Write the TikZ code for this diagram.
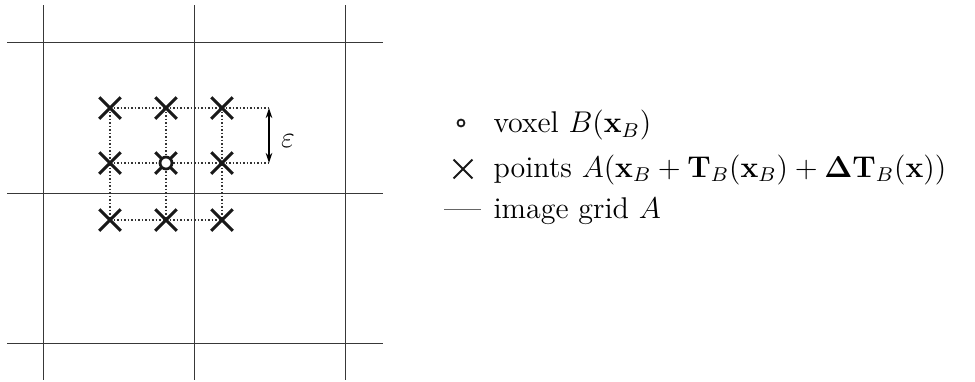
\documentclass[tikz,border=0pt]{standalone}
\usetikzlibrary{shapes.misc,arrows.meta}
\begin{document}
\begin{tikzpicture}[x=0.4pt,y=-0.4pt,
  gridline/.style={line width=0.4pt,draw=black!78},
  dotline/.style={line width=0.42pt,draw=black!80,dash pattern=on 0.7pt off 0.7pt},
  bigcross/.style={cross out,draw=black!90,line width=1.2pt,minimum size=7.4pt,inner sep=0pt},
  bigcirc/.style={circle,draw=black!90,fill=white,line width=1.1pt,minimum size=4.8pt,inner sep=0pt},
  smallcross/.style={cross out,draw=black!90,line width=0.75pt,minimum size=6.8pt,inner sep=0pt},
  smallcirc/.style={circle,draw=black!90,line width=0.7pt,minimum size=2.8pt,inner sep=0pt},
  legtext/.style={anchor=base west,inner sep=0pt,font=\fontsize{12}{14}\selectfont}]
\useasboundingbox (0,0) rectangle (975,381);
% grid
\foreach \x in {43,194,345} \draw[gridline] (\x,5) -- (\x,380);
\foreach \y in {42,193,343} \draw[gridline] (7,\y) -- (383,\y);
% points
\coordinate (p11) at (110,108);
\coordinate (p12) at (166,108);
\coordinate (p13) at (222,108);
\coordinate (p21) at (110,163);
\coordinate (p22) at (166,163);
\coordinate (p23) at (222,163);
\coordinate (p31) at (110,220);
\coordinate (p32) at (166,220);
\coordinate (p33) at (222,220);
\coordinate (e1) at (269,108);
\coordinate (e2) at (269,163);
% dotted lines
\draw[dotline] (p11) -- (e1);
\draw[dotline] (p21) -- (e2);
\draw[dotline] (p31) -- (p33);
\draw[dotline] (p11) -- (p31);
\draw[dotline] (p12) -- (p32);
\draw[dotline] (p13) -- (p33);
% crosses
\foreach \p in {p11,p12,p13,p21,p22,p23,p31,p32,p33}
  \node[bigcross] (c\p) at (\p) {};
\node[bigcirc] (vox) at (p22) {};
% epsilon arrow
\draw[line width=0.45pt,{Stealth[length=4pt,width=2.6pt]}-{Stealth[length=4pt,width=2.6pt]}] (e1) -- (e2);
\node[inner sep=0pt,font=\fontsize{12}{14}\selectfont] (eps) at (288,141) {$\varepsilon$};
% legend
\node[smallcirc] (lc) at (461,123) {};
\node[smallcross] (lx) at (463,169) {};
\coordinate (ll1) at (444,209);
\coordinate (ll2) at (481,209);
\draw[line width=0.4pt,draw=black!60] (ll1) -- (ll2);
\node[legtext] (t1) at (493,132.7) {voxel $B(\mathbf{x}_B)$};
\node[legtext] (t2) at (493,177) {points $A(\mathbf{x}_B+\mathbf{T}_B(\mathbf{x}_B)+\mathbf{\Delta T}_B(\mathbf{x}))$};
\node[legtext] (t3) at (493,218) {image grid $A$};
\end{tikzpicture}
\end{document}
